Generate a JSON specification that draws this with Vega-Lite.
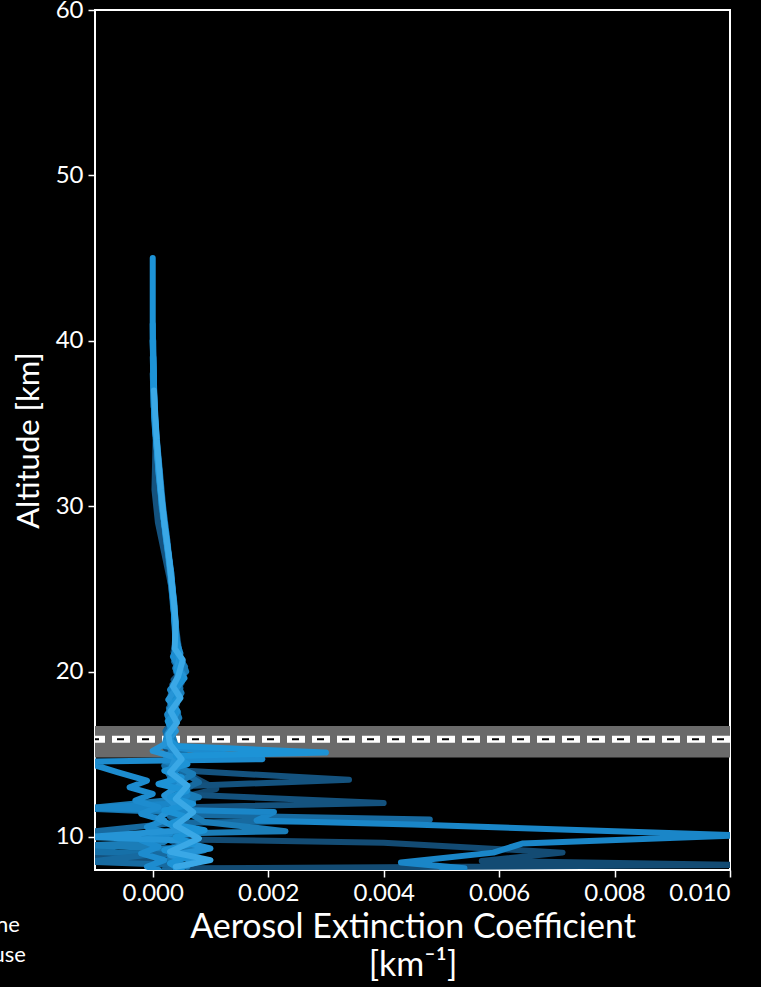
{
  "$schema": "https://vega.github.io/schema/vega-lite/v6.json",
  "width": 635,
  "height": 860,
  "autosize": {"type": "none"},
  "padding": {"left": 95, "top": 10, "right": 31, "bottom": 117},
  "background": "black",
  "title": {"text": "Calbuco", "color": "white", "fontSize": 38, "font": "Lato", "fontWeight": "normal", "offset": 7, "baseline": "bottom"},
  "config": {
    "view": {"stroke": "white", "strokeWidth": 2},
    "font": "Lato",
    "axis": {"labelColor": "white", "titleColor": "white", "tickColor": "white", "domain": false, "grid": false, "labelFont": "Lato", "titleFont": "Lato", "titleFontWeight": "normal", "tickSize": 7, "tickWidth": 1.5}
  },
  "datasets": {
    "band": [{"lo": 14.8, "hi": 16.7}],
    "trop": [{"alt": 15.9}],
    "keys": [{"k": "Tropopause zone"}, {"k": "Mean tropopause"}, {"k": "Profiles"}],
    "prof": [
      {"p":"p0","a":40,"x":0.00000},{"p":"p0","a":36,"x":0.00003},{"p":"p0","a":33,"x":0.00009},{"p":"p0","a":30,"x":0.00017},{"p":"p0","a":28,"x":0.00025},{"p":"p0","a":26,"x":0.00032},{"p":"p0","a":24,"x":0.00037},{"p":"p0","a":22,"x":0.00041},{"p":"p0","a":21.2,"x":0.00036},{"p":"p0","a":20.6,"x":0.00049},{"p":"p0","a":20,"x":0.00040},{"p":"p0","a":19.3,"x":0.00050},{"p":"p0","a":18.6,"x":0.00031},{"p":"p0","a":18,"x":0.00042},{"p":"p0","a":17.3,"x":0.00026},{"p":"p0","a":16.5,"x":0.00038},
      {"p":"p0","a":15.5,"x":0.0002},{"p":"p0","a":14.0,"x":0.0005},{"p":"p0","a":12.9,"x":0.0011},{"p":"p0","a":12.3,"x":0.0004},{"p":"p0","a":11.3,"x":0.0006},{"p":"p0","a":10.4,"x":0.0004},{"p":"p0","a":9.85,"x":0.0005},{"p":"p0","a":9.65,"x":0.0040},{"p":"p0","a":9.05,"x":0.0071},{"p":"p0","a":8.55,"x":0.0057},{"p":"p0","a":8.3,"x":0.0102},{"p":"p0","a":8.1,"x":0.0006},{"p":"p0","a":7.9,"x":0.0003},

      {"p":"p1","a":38,"x":0.00001},{"p":"p1","a":34,"x":0.00005},{"p":"p1","a":31,"x":0.00003},{"p":"p1","a":29,"x":0.00009},{"p":"p1","a":27,"x":0.00021},{"p":"p1","a":25,"x":0.00033},{"p":"p1","a":23,"x":0.00039},{"p":"p1","a":21.5,"x":0.00045},{"p":"p1","a":20.8,"x":0.00038},{"p":"p1","a":20.1,"x":0.00052},{"p":"p1","a":19.5,"x":0.00036},{"p":"p1","a":18.8,"x":0.00046},{"p":"p1","a":18,"x":0.00030},{"p":"p1","a":17.2,"x":0.00041},{"p":"p1","a":16.5,"x":0.00024},
      {"p":"p1","a":15.5,"x":0.0003},{"p":"p1","a":14.5,"x":0.0003},{"p":"p1","a":14.0,"x":0.0006},{"p":"p1","a":13.45,"x":0.0034},{"p":"p1","a":13.1,"x":0.0007},{"p":"p1","a":12.6,"x":0.0003},{"p":"p1","a":12.05,"x":0.0040},{"p":"p1","a":11.8,"x":0.0006},{"p":"p1","a":11.2,"x":0.0003},{"p":"p1","a":10.6,"x":0.0007},{"p":"p1","a":10.0,"x":0.0002},{"p":"p1","a":9.4,"x":0.0005},{"p":"p1","a":8.8,"x":-0.0011},{"p":"p1","a":8.6,"x":0.0004},{"p":"p1","a":8.0,"x":0.0002},

      {"p":"p2","a":39,"x":0.00000},{"p":"p2","a":35,"x":0.00004},{"p":"p2","a":32,"x":0.00012},{"p":"p2","a":30,"x":0.00015},{"p":"p2","a":28,"x":0.00023},{"p":"p2","a":26,"x":0.00030},{"p":"p2","a":24,"x":0.00035},{"p":"p2","a":22,"x":0.00042},{"p":"p2","a":21,"x":0.00040},{"p":"p2","a":20.3,"x":0.00056},{"p":"p2","a":19.7,"x":0.00042},{"p":"p2","a":19,"x":0.00048},{"p":"p2","a":18.3,"x":0.00033},{"p":"p2","a":17.5,"x":0.00044},{"p":"p2","a":16.8,"x":0.00029},{"p":"p2","a":16.2,"x":0.00035},
      {"p":"p2","a":15.6,"x":0.0003},{"p":"p2","a":14.9,"x":0.0006},{"p":"p2","a":14.3,"x":0.0002},{"p":"p2","a":13.0,"x":0.0004},{"p":"p2","a":12.2,"x":0.0007},{"p":"p2","a":11.7,"x":-0.0011},{"p":"p2","a":11.5,"x":0.0002},{"p":"p2","a":10.7,"x":0.0006},{"p":"p2","a":10.1,"x":0.0003},{"p":"p2","a":9.1,"x":-0.0011},{"p":"p2","a":8.9,"x":0.0007},{"p":"p2","a":8.5,"x":0.0002},{"p":"p2","a":8.0,"x":0.0005},

      {"p":"p3","a":40,"x":0.00001},{"p":"p3","a":36,"x":0.00002},{"p":"p3","a":33,"x":0.00010},{"p":"p3","a":30,"x":0.00018},{"p":"p3","a":28,"x":0.00025},{"p":"p3","a":26,"x":0.00029},{"p":"p3","a":24,"x":0.00036},{"p":"p3","a":22,"x":0.00039},{"p":"p3","a":21.3,"x":0.00046},{"p":"p3","a":20.6,"x":0.00037},{"p":"p3","a":19.9,"x":0.00051},{"p":"p3","a":19.2,"x":0.00034},{"p":"p3","a":18.5,"x":0.00045},{"p":"p3","a":17.8,"x":0.00028},{"p":"p3","a":17,"x":0.00040},{"p":"p3","a":16.4,"x":0.00022},
      {"p":"p3","a":15.5,"x":0.0003},{"p":"p3","a":14.2,"x":0.0004},{"p":"p3","a":13.3,"x":0.0008},{"p":"p3","a":12.7,"x":0.0004},{"p":"p3","a":11.9,"x":0.0005},{"p":"p3","a":11.35,"x":0.0003},{"p":"p3","a":11.05,"x":0.0048},{"p":"p3","a":10.85,"x":0.0004},{"p":"p3","a":10.3,"x":-0.0011},{"p":"p3","a":10.1,"x":0.0003},{"p":"p3","a":9.2,"x":0.0006},{"p":"p3","a":8.5,"x":-0.0011},{"p":"p3","a":8.3,"x":0.0004},{"p":"p3","a":8.0,"x":0.0002},

      {"p":"p4","a":38,"x":0.00000},{"p":"p4","a":35,"x":0.00003},{"p":"p4","a":32,"x":0.00011},{"p":"p4","a":30,"x":0.00016},{"p":"p4","a":28,"x":0.00024},{"p":"p4","a":26,"x":0.00031},{"p":"p4","a":24,"x":0.00038},{"p":"p4","a":22,"x":0.00040},{"p":"p4","a":21,"x":0.00047},{"p":"p4","a":20,"x":0.00058},{"p":"p4","a":19.4,"x":0.00040},{"p":"p4","a":18.7,"x":0.00050},{"p":"p4","a":18,"x":0.00036},{"p":"p4","a":17.2,"x":0.00046},{"p":"p4","a":16.5,"x":0.00031},
      {"p":"p4","a":15.5,"x":0.0004},{"p":"p4","a":14.6,"x":0.0002},{"p":"p4","a":13.8,"x":0.0007},{"p":"p4","a":13.0,"x":0.0003},{"p":"p4","a":12.4,"x":0.0008},{"p":"p4","a":11.75,"x":-0.0011},{"p":"p4","a":11.5,"x":0.0006},{"p":"p4","a":10.9,"x":0.0009},{"p":"p4","a":10.35,"x":0.0023},{"p":"p4","a":10.2,"x":0.0004},{"p":"p4","a":9.7,"x":0.0002},{"p":"p4","a":9.5,"x":-0.0011},{"p":"p4","a":9.2,"x":0.0009},{"p":"p4","a":8.7,"x":0.0003},{"p":"p4","a":8.2,"x":0.0006},

      {"p":"p5","a":41,"x":0.00000},{"p":"p5","a":36,"x":0.00002},{"p":"p5","a":34,"x":0.00006},{"p":"p5","a":32,"x":0.00012},{"p":"p5","a":30,"x":0.00016},{"p":"p5","a":28,"x":0.00024},{"p":"p5","a":26,"x":0.00031},{"p":"p5","a":24,"x":0.00036},{"p":"p5","a":22,"x":0.00041},{"p":"p5","a":20.8,"x":0.00048},{"p":"p5","a":20.2,"x":0.00039},{"p":"p5","a":19.6,"x":0.00047},{"p":"p5","a":18.9,"x":0.00030},{"p":"p5","a":18.2,"x":0.00041},{"p":"p5","a":17.4,"x":0.00025},{"p":"p5","a":16.6,"x":0.00034},
      {"p":"p5","a":15.4,"x":0.0003},{"p":"p5","a":14.5,"x":0.0005},{"p":"p5","a":13.5,"x":0.0003},{"p":"p5","a":12.5,"x":0.0006},{"p":"p5","a":12.0,"x":0.0003},{"p":"p5","a":11.75,"x":-0.0011},{"p":"p5","a":11.5,"x":0.0021},{"p":"p5","a":11.0,"x":0.0018},{"p":"p5","a":10.75,"x":0.0045},{"p":"p5","a":10.1,"x":0.0102},{"p":"p5","a":9.6,"x":0.0064},{"p":"p5","a":9.05,"x":0.0059},{"p":"p5","a":8.45,"x":0.0043},{"p":"p5","a":8.1,"x":0.0054},{"p":"p5","a":7.9,"x":0.0050},

      {"p":"p6","a":40,"x":0.00000},{"p":"p6","a":36,"x":0.00003},{"p":"p6","a":33,"x":0.00008},{"p":"p6","a":31,"x":0.00013},{"p":"p6","a":29,"x":0.00020},{"p":"p6","a":27,"x":0.00027},{"p":"p6","a":25,"x":0.00034},{"p":"p6","a":23,"x":0.00038},{"p":"p6","a":21.6,"x":0.00043},{"p":"p6","a":20.9,"x":0.00035},{"p":"p6","a":19.8,"x":0.00053},{"p":"p6","a":19.1,"x":0.00038},{"p":"p6","a":18.5,"x":0.00047},{"p":"p6","a":17.7,"x":0.00029},{"p":"p6","a":17,"x":0.00039},{"p":"p6","a":16.2,"x":0.00025},
      {"p":"p6","a":15.5,"x":0.0002},{"p":"p6","a":14.7,"x":0.0019},{"p":"p6","a":14.55,"x":-0.0012},{"p":"p6","a":13.9,"x":-0.0006},{"p":"p6","a":13.4,"x":-0.0001},{"p":"p6","a":13.0,"x":-0.0004},{"p":"p6","a":12.6,"x":0.0000},{"p":"p6","a":12.2,"x":-0.0003},{"p":"p6","a":11.8,"x":0.0001},{"p":"p6","a":11.4,"x":-0.0002},{"p":"p6","a":11.0,"x":0.0002},{"p":"p6","a":10.6,"x":-0.0001},{"p":"p6","a":10.2,"x":0.0003},{"p":"p6","a":9.8,"x":-0.0002},{"p":"p6","a":9.4,"x":0.0001},{"p":"p6","a":9.0,"x":-0.0002},{"p":"p6","a":8.6,"x":0.0002},{"p":"p6","a":8.2,"x":-0.0001},{"p":"p6","a":8.0,"x":0.0001},

      {"p":"p7","a":39,"x":0.00001},{"p":"p7","a":35,"x":0.00004},{"p":"p7","a":32,"x":0.00010},{"p":"p7","a":30,"x":0.00017},{"p":"p7","a":28,"x":0.00023},{"p":"p7","a":26,"x":0.00032},{"p":"p7","a":24,"x":0.00037},{"p":"p7","a":22,"x":0.00039},{"p":"p7","a":21.1,"x":0.00048},{"p":"p7","a":20.2,"x":0.00042},{"p":"p7","a":19.6,"x":0.00055},{"p":"p7","a":19,"x":0.00041},{"p":"p7","a":18.3,"x":0.00027},{"p":"p7","a":17.6,"x":0.00043},{"p":"p7","a":16.9,"x":0.00032},{"p":"p7","a":16.4,"x":0.00040},
      {"p":"p7","a":15.6,"x":0.0002},{"p":"p7","a":15.2,"x":0.0000},{"p":"p7","a":14.8,"x":0.0004},{"p":"p7","a":14.0,"x":0.0003},{"p":"p7","a":13.2,"x":0.0005},{"p":"p7","a":12.5,"x":0.0002},{"p":"p7","a":11.9,"x":0.0004},{"p":"p7","a":11.1,"x":0.0001},{"p":"p7","a":10.4,"x":0.0005},{"p":"p7","a":10.0,"x":-0.0011},{"p":"p7","a":9.8,"x":0.0004},{"p":"p7","a":9.3,"x":0.0010},{"p":"p7","a":8.9,"x":0.0003},{"p":"p7","a":8.5,"x":0.0008},{"p":"p7","a":8.1,"x":0.0004},

      {"p":"p8","a":45,"x":0.00000},{"p":"p8","a":40,"x":0.00000},{"p":"p8","a":36,"x":0.00002},{"p":"p8","a":34,"x":0.00006},{"p":"p8","a":32,"x":0.00011},{"p":"p8","a":30,"x":0.00016},{"p":"p8","a":28,"x":0.00024},{"p":"p8","a":26,"x":0.00031},{"p":"p8","a":24,"x":0.00036},{"p":"p8","a":22,"x":0.00040},{"p":"p8","a":21,"x":0.00044},{"p":"p8","a":20.5,"x":0.00050},{"p":"p8","a":20,"x":0.00042},{"p":"p8","a":19.5,"x":0.00052},{"p":"p8","a":19,"x":0.00038},{"p":"p8","a":18.4,"x":0.00044},{"p":"p8","a":18,"x":0.00032},{"p":"p8","a":17.5,"x":0.00040},{"p":"p8","a":17,"x":0.00026},{"p":"p8","a":16.4,"x":0.00034},{"p":"p8","a":16,"x":0.00026},
      {"p":"p8","a":15.5,"x":0.0004},{"p":"p8","a":15.1,"x":0.0030},{"p":"p8","a":14.9,"x":0.0004},{"p":"p8","a":14.4,"x":0.0006},{"p":"p8","a":14.0,"x":0.0002},{"p":"p8","a":13.6,"x":0.0005},{"p":"p8","a":13.2,"x":0.0001},{"p":"p8","a":12.8,"x":0.0006},{"p":"p8","a":12.4,"x":0.0003},{"p":"p8","a":12.0,"x":0.0007},{"p":"p8","a":11.6,"x":0.0002},{"p":"p8","a":11.2,"x":0.0006},{"p":"p8","a":10.8,"x":0.0003},{"p":"p8","a":10.4,"x":0.0009},{"p":"p8","a":10.0,"x":0.0004},{"p":"p8","a":9.6,"x":0.0007},{"p":"p8","a":9.2,"x":0.0002},{"p":"p8","a":8.8,"x":0.0006},{"p":"p8","a":8.4,"x":0.0003},{"p":"p8","a":8.0,"x":0.0005},

      {"p":"p9","a":37,"x":0.00002},{"p":"p9","a":34,"x":0.00007},{"p":"p9","a":31,"x":0.00014},{"p":"p9","a":29,"x":0.00020},{"p":"p9","a":27,"x":0.00028},{"p":"p9","a":25,"x":0.00034},{"p":"p9","a":23,"x":0.00040},{"p":"p9","a":21.4,"x":0.00038},{"p":"p9","a":20.7,"x":0.00052},{"p":"p9","a":19.7,"x":0.00044},{"p":"p9","a":19.1,"x":0.00035},{"p":"p9","a":18.4,"x":0.00048},{"p":"p9","a":17.6,"x":0.00031},{"p":"p9","a":16.9,"x":0.00042},{"p":"p9","a":16.2,"x":0.00027},
      {"p":"p9","a":15.6,"x":0.0003},{"p":"p9","a":14.7,"x":0.0005},{"p":"p9","a":13.9,"x":0.0003},{"p":"p9","a":13.1,"x":0.0006},{"p":"p9","a":12.3,"x":0.0004},{"p":"p9","a":11.5,"x":0.0007},{"p":"p9","a":10.7,"x":0.0004},{"p":"p9","a":9.9,"x":0.0008},{"p":"p9","a":9.1,"x":0.0003},{"p":"p9","a":8.6,"x":0.0010},{"p":"p9","a":8.2,"x":0.0004}
    ]
  },
  "layer": [
    {
      "data": {"name": "band"},
      "mark": {"type": "rect", "color": "#6a6a6a"},
      "encoding": {
        "y": {"field": "lo", "type": "quantitative", "scale": {"domain": [8, 60], "nice": false, "zero": false}},
        "y2": {"field": "hi"}
      }
    },
    {
      "data": {"name": "trop"},
      "mark": {"type": "rule", "color": "white", "strokeWidth": 7, "strokeDash": [18, 7]},
      "encoding": {"y": {"field": "alt", "type": "quantitative"}}
    },
    {
      "data": {"name": "trop"},
      "mark": {"type": "rule", "color": "black", "strokeWidth": 2, "strokeDash": [7, 18], "strokeDashOffset": -6},
      "encoding": {"y": {"field": "alt", "type": "quantitative"}}
    },
    {
      "data": {"name": "keys"},
      "mark": {"type": "point", "opacity": 0, "filled": true, "color": "white"},
      "encoding": {
        "shape": {"field": "k", "type": "nominal",
          "scale": {"domain": ["Tropopause zone", "Mean tropopause", "Profiles"], "range": ["square", "stroke", "square"]},
          "legend": {"orient": "none", "legendX": -265, "legendY": 904, "title": null, "labelColor": "white", "labelFontSize": 22, "labelFont": "Lato", "rowPadding": 8, "padding": 0, "symbolOpacity": 0, "labelLimit": 400}}
      }
    },
    {
      "data": {"name": "prof"},
      "mark": {"type": "line", "strokeWidth": 6, "clip": true, "strokeJoin": "round", "strokeCap": "round"},
      "encoding": {
        "x": {"field": "x", "type": "quantitative", "scale": {"domain": [-0.001, 0.010], "nice": false, "zero": false},
          "axis": {"values": [0, 0.002, 0.004, 0.006, 0.008, 0.010], "format": ".3f", "labelFontSize": 24, "labelPadding": 4,
            "title": ["Aerosol Extinction Coefficient", "[km⁻¹]"], "titleFontSize": 34, "titleLineHeight": 38, "titlePadding": 5}},
        "y": {"field": "a", "type": "quantitative", "scale": {"domain": [8, 60], "nice": false, "zero": false},
          "axis": {"values": [10, 20, 30, 40, 50, 60], "labelFontSize": 24, "labelPadding": 5, "title": "Altitude [km]", "titleFontSize": 31, "titlePadding": 10}},
        "color": {"field": "p", "type": "nominal", "legend": null,
          "scale": {"domain": ["p0","p1","p2","p3","p4","p5","p6","p7","p8","p9"],
            "range": ["#134b73","#14527e","#1670a8","#176aa0","#1b7db8","#1a86c8","#1d8ccf","#2594d6","#1d93d6","#3aa8e6"]}},
        "detail": {"field": "p"},
        "order": {"field": "a", "type": "quantitative", "sort": "descending"}
      }
    }
  ]
}
